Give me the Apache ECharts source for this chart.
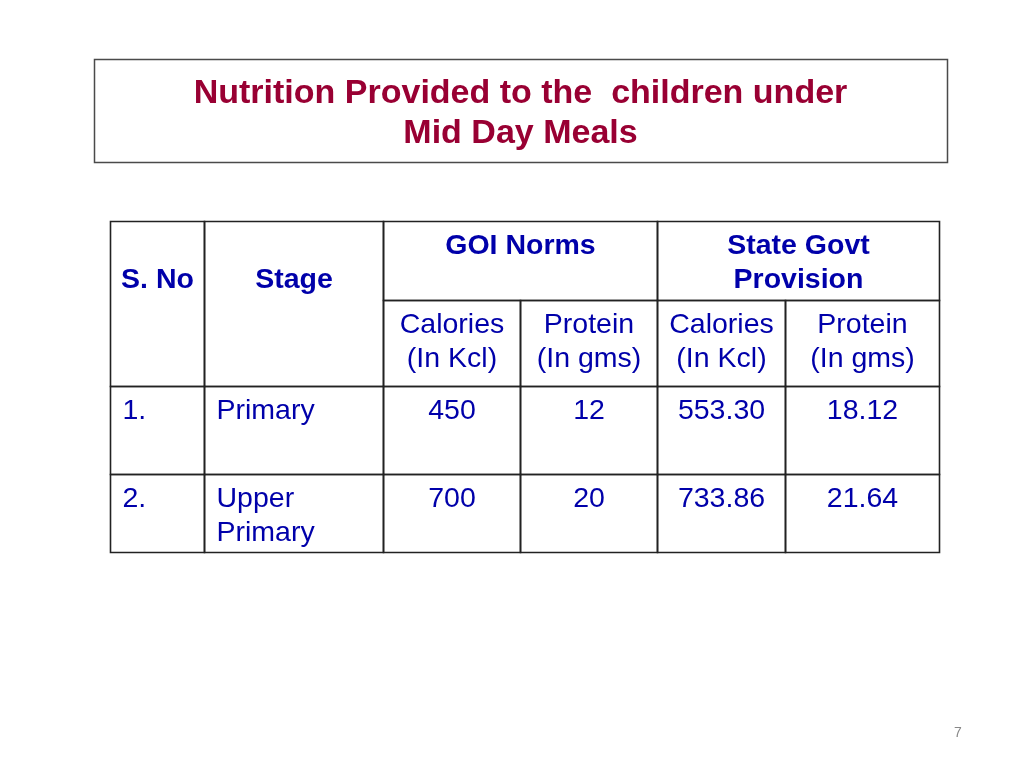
<!DOCTYPE html>
<html>
<head>
<meta charset="utf-8">
<script src="https://cdn.jsdelivr.net/npm/echarts@6/dist/echarts.min.js"></script>
<style>
html,body{margin:0;padding:0;background:#fff;}
#main{width:1024px;height:768px;}
</style>
</head>
<body>
<div id="main"></div>
<script>
// ---- data ----
const titleLines = ['Nutrition Provided to the  children under', 'Mid Day Meals'];
const headerTop = ['S. No', 'Stage', 'GOI Norms', 'State Govt\nProvision'];
const subHeaders = ['Calories\n(In Kcl)', 'Protein\n(In gms)', 'Calories\n(In Kcl)', 'Protein\n(In gms)'];
const serialNos = ['1.', '2.'];
const stages = ['Primary', 'Upper\nPrimary'];
const goiCalories = [450, 700];
const goiProtein = [12, 20];
const stateCalories = [553.30, 733.86];
const stateProtein = [18.12, 21.64];
const pageNumber = '7';

// ---- layout (column / row edges in table units) ----
const colEdges = [0, 94, 273, 410, 547, 675, 829];
const rowEdges = [0, 79, 165, 253, 331];

const FAMILY = 'Liberation Sans';
const BLUE = '#0000AA';

// cells: [c0, c1, r0, r1, text, bold, align]
const cells = [];
cells.push([0, 1, 0, 2, '\n' + headerTop[0], true, 'center']);
cells.push([1, 2, 0, 2, '\n' + headerTop[1], true, 'center']);
cells.push([2, 4, 0, 1, headerTop[2], true, 'center']);
cells.push([4, 6, 0, 1, headerTop[3], true, 'center']);
subHeaders.forEach((t, i) => cells.push([2 + i, 3 + i, 1, 2, t, false, 'center']));
serialNos.forEach((s, r) => {
  cells.push([0, 1, 2 + r, 3 + r, s, false, 'left']);
  cells.push([1, 2, 2 + r, 3 + r, stages[r], false, 'left']);
  cells.push([2, 3, 2 + r, 3 + r, goiCalories[r].toFixed(0), false, 'center']);
  cells.push([3, 4, 2 + r, 3 + r, goiProtein[r].toFixed(0), false, 'center']);
  cells.push([4, 5, 2 + r, 3 + r, stateCalories[r].toFixed(2), false, 'center']);
  cells.push([5, 6, 2 + r, 3 + r, stateProtein[r].toFixed(2), false, 'center']);
});

const chart = echarts.init(document.getElementById('main'), null, {renderer: 'canvas'});
chart.setOption({
  backgroundColor: '#fff',
  animation: false,
  grid: {left: 110, top: 221, width: 829, height: 331},
  xAxis: {type: 'value', min: 0, max: 829, show: false},
  yAxis: {type: 'value', min: 0, max: 331, inverse: true, show: false},
  graphic: [
    {type: 'rect', shape: {x: 94.5, y: 59.5, width: 853, height: 103},
     style: {fill: '#fff', stroke: '#4a4a4a', lineWidth: 1.5}, z: 0},
    {type: 'text', x: 520.5, y: 94, style: {text: titleLines[0], fill: '#990033',
      fontFamily: FAMILY, fontWeight: 'bold', fontSize: 34, align: 'center', verticalAlign: 'middle'}},
    {type: 'text', x: 520.5, y: 134, style: {text: titleLines[1], fill: '#990033',
      fontFamily: FAMILY, fontWeight: 'bold', fontSize: 34, align: 'center', verticalAlign: 'middle'}},
    {type: 'text', x: 958, y: 733, style: {text: pageNumber, fill: '#888',
      fontFamily: FAMILY, fontSize: 14, align: 'center', verticalAlign: 'middle'}}
  ],
  series: [{
    type: 'custom',
    coordinateSystem: 'cartesian2d',
    data: cells.map(c => [c[0], c[1], c[2], c[3]]),
    renderItem: function (params, api) {
      const c = cells[params.dataIndex];
      const p0 = api.coord([colEdges[c[0]], rowEdges[c[2]]]);
      const p1 = api.coord([colEdges[c[1]], rowEdges[c[3]]]);
      const x0 = Math.round(p0[0]) + 0.5, y0 = Math.round(p0[1]) + 0.5;
      const x1 = Math.round(p1[0]) + 0.5, y1 = Math.round(p1[1]) + 0.5;
      const align = c[6];
      const tx = align === 'left' ? x0 + 12 : (x0 + x1) / 2;
      return {
        type: 'group',
        children: [
          {type: 'rect', shape: {x: x0, y: y0, width: x1 - x0, height: y1 - y0},
           style: {fill: 'none', stroke: '#222', lineWidth: 1.6}},
          {type: 'text', x: tx, y: y0 + 8,
           style: {text: c[4], fill: BLUE, fontFamily: FAMILY, fontWeight: c[5] ? 'bold' : 'normal',
             fontSize: 28.5, align: align, verticalAlign: 'top', lineHeight: 34}}
        ]
      };
    }
  }]
});
</script>
</body>
</html>
